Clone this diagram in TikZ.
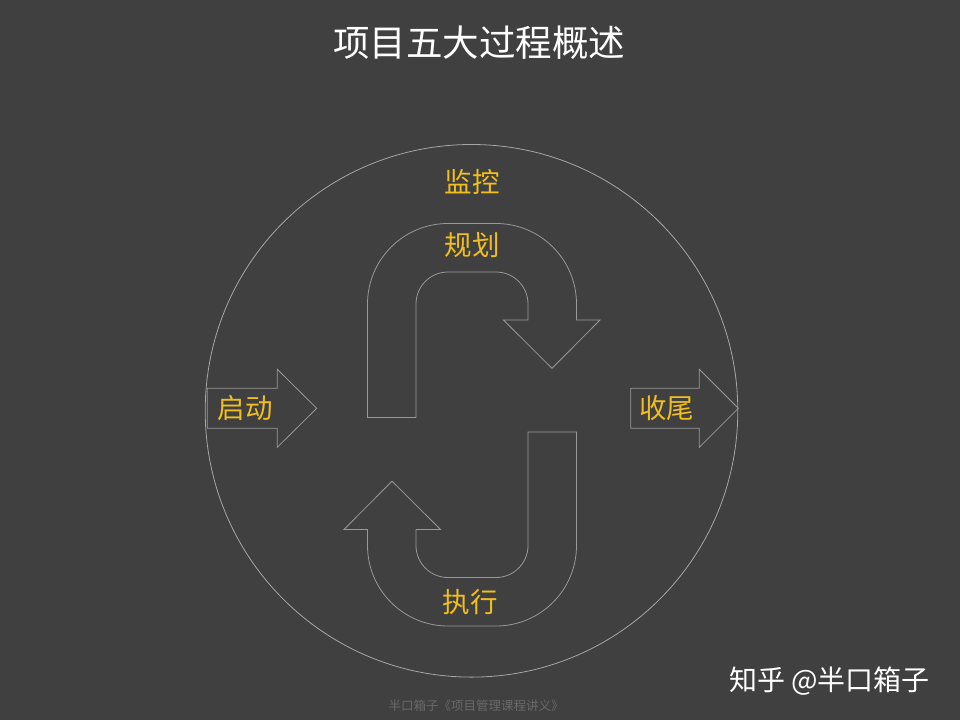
\documentclass[tikz,border=0pt]{standalone}
\usepackage{fontspec}
\setmainfont{Noto Sans CJK SC}
\newfontfamily\cjk{Noto Sans CJK SC}
\begin{document}
\begin{tikzpicture}[x=1pt,y=-1pt,
  outline/.style={draw=gray!80!white, line width=0.8pt},
  ring/.style={draw=gray!70!white, line width=0.8pt},
  phase/.style={text=phaseyellow, font=\cjk\fontsize{27.5}{30}\selectfont, inner sep=0pt}]
\definecolor{bg}{RGB}{64,64,64}
\definecolor{phaseyellow}{RGB}{240,190,30}
\definecolor{footgray}{RGB}{105,105,105}
\fill[bg] (0,0) rectangle (960,720);
\useasboundingbox (0,0) rectangle (960,720);

% title
\node[text=white, font=\cjk\fontsize{36.5}{40}\selectfont, inner sep=0pt] (title) at (479,43) {项目五大过程概述};

% monitoring circle
\draw[ring] (471.5,410.8) circle[radius=266.3];

% upper U-turn arrow (planning)
\def\uturn{(367.5,417.5) -- (367.5,304) arc[start angle=180, end angle=270, radius=80.5]
  -- (496,223.5) arc[start angle=270, end angle=360, radius=80.5]
  -- (576.5,320) -- (600,320) -- (552,368.3) -- (503.5,320) -- (528,320) -- (528,304)
  arc[start angle=0, end angle=-90, radius=32] -- (448,272)
  arc[start angle=270, end angle=180, radius=32] -- (416,417.5) -- cycle}
\draw[outline] \uturn;
% lower U-turn arrow (executing)
\begin{scope}[rotate around={180:(472,424.75)}]
\draw[outline] \uturn;
\end{scope}

% side arrows
\draw[outline] (207.3,388.3) -- (277.3,388.3) -- (277.3,369.3) -- (316.7,408.3)
  -- (277.3,447.3) -- (277.3,428.3) -- (207.3,428.3) -- cycle;
\draw[outline] (630.7,388.3) -- (699.3,388.3) -- (699.3,369.3) -- (738.3,408.3)
  -- (699.3,447.3) -- (699.3,428.3) -- (630.7,428.3) -- cycle;

% labels
\node[phase] (jiankong) at (472,182) {监控};
\node[phase] (guihua) at (472,245) {规划};
\node[phase] (zhixing) at (470,602) {执行};
\node[phase] (qidong) at (245,408) {启动};
\node[phase] (shouwei) at (666.5,408) {收尾};

% footer
\node[text=footgray, font=\cjk\fontsize{12.5}{14}\selectfont, inner sep=0pt] (footer) at (476,706) {半口箱子《项目管理课程讲义》};

% watermark
\node[text=white, font=\cjk\fontsize{28}{30}\selectfont, inner sep=0pt] (watermark) at (829.5,681) {知乎 @半口箱子};
\end{tikzpicture}
\end{document}
